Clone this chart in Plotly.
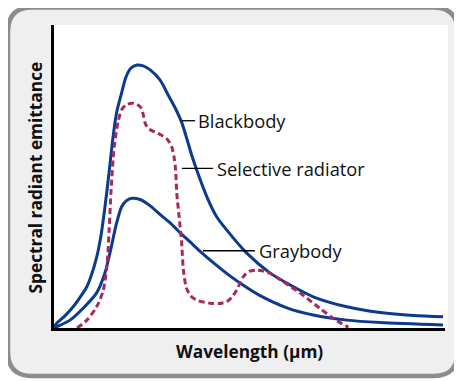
import plotly.graph_objects as go

# ---- data (arbitrary units: wavelength 0..10, emittance 0..10) ----
bb_x = [0.0, 0.07, 0.28, 0.49, 0.67, 0.84, 0.97, 1.09, 1.20, 1.30, 1.41, 1.51, 1.60, 1.73, 1.84,
        1.97, 2.12, 2.28, 2.46, 2.71, 2.92, 3.10, 3.27, 3.56, 3.91, 4.16, 4.42, 4.93, 5.52, 6.04,
        6.63, 7.49, 8.34, 9.19, 9.95]
bb_y = [0.03, 0.16, 0.40, 0.70, 1.02, 1.36, 1.80, 2.33, 3.04, 3.96, 5.15, 6.30, 7.10, 7.76, 8.28,
        8.58, 8.68, 8.65, 8.52, 8.19, 7.69, 7.26, 6.77, 5.55, 4.33, 3.67, 3.23, 2.47, 1.82, 1.42,
        1.03, 0.70, 0.51, 0.41, 0.37]

gb_x = [0.0, 0.07, 0.41, 0.75, 1.09, 1.30, 1.43, 1.60, 1.73, 1.84, 1.99, 2.20, 2.46, 2.71, 2.97,
        3.22, 3.48, 3.73, 4.12, 4.50, 4.89, 5.27, 5.99, 6.63, 7.49, 8.34, 9.95]
gb_y = [0.0, 0.04, 0.26, 0.66, 1.16, 1.81, 2.47, 3.46, 4.00, 4.19, 4.28, 4.24, 4.03, 3.75, 3.47,
        3.15, 2.84, 2.54, 2.11, 1.72, 1.37, 1.07, 0.65, 0.43, 0.26, 0.18, 0.10]

sr_x = [0.59, 0.84, 1.09, 1.26, 1.36, 1.41, 1.46, 1.54, 1.64, 1.73, 1.84, 1.99, 2.12, 2.23, 2.29,
        2.34, 2.43, 2.58, 2.71, 2.89, 3.01, 3.07, 3.11, 3.14, 3.20, 3.26, 3.31, 3.39, 3.50, 3.65,
        3.99, 4.25, 4.42, 4.55, 4.67, 4.84, 4.99, 5.18, 5.35, 5.52, 5.99, 6.29, 6.80, 7.14, 7.53]
sr_y = [0.0, 0.26, 0.70, 1.25, 2.15, 3.23, 4.55, 5.98, 6.81, 7.20, 7.36, 7.42, 7.38, 7.26, 7.00,
        6.73, 6.57, 6.47, 6.39, 6.24, 5.98, 5.64, 5.22, 4.46, 3.67, 2.90, 1.91, 1.31, 1.06, 0.92,
        0.82, 0.81, 0.87, 1.02, 1.25, 1.69, 1.87, 1.91, 1.88, 1.81, 1.42, 1.16, 0.65, 0.32, 0.02]

labels = ["Blackbody", "Selective radiator", "Graybody"]
label_line_x0 = [3.27, 3.27, 3.81]
label_line_x1 = [3.61, 4.07, 5.14]
label_y = [6.84, 5.27, 2.55]
label_text_x = [3.63, 4.12, 5.19]

# ---- geometry, in screen pixels (page body has an 8px margin) ----
OFF = 8
SW, SH = 462, 381
PL, PR, PT, PB = 54, 445, 25, 328          # plot area edges on screen
W, H = SW - OFF, SH - OFF


def px(xs):
    return (xs - PL) / (PR - PL)


def py(ys):
    return (PB - ys) / (PB - PT)


BLUE = "#0b3a8e"
MAROON = "#a8285e"

fig = go.Figure()
fig.add_trace(go.Scatter(x=bb_x, y=bb_y, mode="lines",
                         line=dict(color=BLUE, width=3, shape="spline", smoothing=0.8),
                         hoverinfo="skip", showlegend=False))
fig.add_trace(go.Scatter(x=gb_x, y=gb_y, mode="lines",
                         line=dict(color=BLUE, width=3, shape="spline", smoothing=0.8),
                         hoverinfo="skip", showlegend=False))
fig.add_trace(go.Scatter(x=sr_x, y=sr_y, mode="lines",
                         line=dict(color=MAROON, width=3, shape="spline", smoothing=0.8,
                                   dash="6px,3.5px"),
                         hoverinfo="skip", showlegend=False))


def rr_path(x0, y0, x1, y1, r):
    P = lambda a, b: f"{px(a):.5f},{py(b):.5f}"
    return (f"M {P(x0 + r, y0)} L {P(x1 - r, y0)} Q {P(x1, y0)} {P(x1, y0 + r)} "
            f"L {P(x1, y1 - r)} Q {P(x1, y1)} {P(x1 - r, y1)} "
            f"L {P(x0 + r, y1)} Q {P(x0, y1)} {P(x0, y1 - r)} "
            f"L {P(x0, y0 + r)} Q {P(x0, y0)} {P(x0 + r, y0)} Z")


shapes = [
    dict(type="path", xref="paper", yref="paper", path=rr_path(8, 7.5, 457.5, 376, 24),
         line=dict(color="#8c8c8c", width=4.5), fillcolor="#f0eff0", layer="below"),
    dict(type="rect", xref="paper", yref="paper", x0=0, x1=px(448), y0=0, y1=1,
         line=dict(width=0), fillcolor="white", layer="below"),
]
annotations = []
for i, t in enumerate(labels):
    shapes.append(dict(type="line", xref="x", yref="y", x0=label_line_x0[i], x1=label_line_x1[i],
                       y0=label_y[i], y1=label_y[i], line=dict(color="black", width=1.3)))
    annotations.append(dict(x=label_text_x[i], y=label_y[i], xref="x", yref="y", text=t,
                            showarrow=False, xanchor="left", yanchor="middle",
                            font=dict(family="Open Sans", size=18.3, color="#111111")))

annotations.append(dict(x=px(249), y=py(351), xref="paper", yref="paper",
                        text="<b>Wavelength (µm)</b>", showarrow=False,
                        xanchor="center", yanchor="middle",
                        font=dict(family="Open Sans", size=17.3, color="#111111")))
annotations.append(dict(x=px(35), y=py(177.5), xref="paper", yref="paper",
                        text="<b>Spectral radiant emittance</b>", showarrow=False, textangle=-90,
                        xanchor="center", yanchor="middle",
                        font=dict(family="Open Sans", size=17.3, color="#111111")))

fig.update_layout(
    width=W, height=H, autosize=False,
    margin=dict(l=PL - OFF, r=SW - PR, t=PT - OFF, b=SH - PB, pad=0),
    paper_bgcolor="white", plot_bgcolor="white",
    shapes=shapes, annotations=annotations,
    xaxis=dict(range=[0, 10], showgrid=False, zeroline=False, showticklabels=False, ticks="",
               showline=True, linecolor="black", linewidth=2.5, fixedrange=True),
    yaxis=dict(range=[0, 10], showgrid=False, zeroline=False, showticklabels=False, ticks="",
               showline=True, linecolor="black", linewidth=2.5, fixedrange=True),
)

fig.write_html("out.html")
